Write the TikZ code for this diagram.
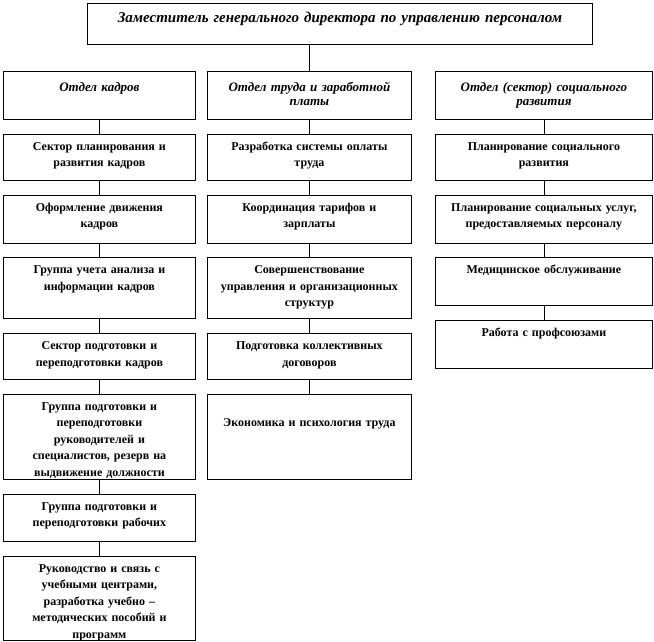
\documentclass[tikz,border=0pt]{standalone}
\usepackage{fontspec}
\setmainfont{Liberation Serif}
\usetikzlibrary{positioning}

\begin{document}
\begin{tikzpicture}[x=1pt, y=-1pt, node distance=14pt,
  cell/.style={draw, line width=.8pt, inner xsep=3pt, inner ysep=0pt, align=center,
    font=\fontsize{12}{16.5}\selectfont\bfseries, text height=16pt, text depth={#1-16pt}},
  head/.style={cell=#1, text height=20pt, text depth={#1-20pt},
    font=\fontsize{13}{14}\selectfont\bfseries\itshape},
  colk/.style={text width=186pt},
  colt/.style={text width=198pt},
  cols/.style={text width=211pt}]
\useasboundingbox (0,0) rectangle (654,642);
% top
\node[head=41pt, text width=499pt, anchor=north west, text height=19pt, text depth=22pt,
  font=\fontsize{15}{16}\selectfont\bfseries\itshape] (zam) at (87,3)
  {Заместитель генерального директора по управлению персоналом};
% departments
\node[head=48pt, colk, anchor=north west] (k1) at (3,71) {Отдел кадров};
\node[head=48pt, colt, anchor=north west] (t1) at (207,71) {Отдел труда и заработной\\платы};
\node[head=48pt, cols, anchor=north west] (s1) at (435,71) {Отдел (сектор) социального\\развития};
% personnel
\node[cell=46pt, colk, below=of k1] (k2) {Сектор планирования и\\развития кадров};
\node[cell=48pt, colk, below=of k2] (k3) {Оформление движения\\кадров};
\node[cell=61pt, colk, below=of k3] (k4) {Группа учета анализа и\\информации кадров};
\node[cell=46pt, colk, below=of k4] (k5) {Сектор подготовки и\\переподготовки кадров};
\node[cell=85pt, colk, below=of k5] (k6) {Группа подготовки и\\переподготовки\\руководителей и\\специалистов, резерв на\\выдвижение должности};
\node[cell=47pt, colk, below=of k6] (k7) {Группа подготовки и\\переподготовки рабочих};
\node[cell=84pt, colk, below=of k7] (k8) {Руководство и связь с\\учебными центрами,\\разработка учебно –\\методических пособий и\\программ};
% labour and pay
\node[cell=46pt, colt, below=of t1] (t2) {Разработка системы оплаты\\труда};
\node[cell=48pt, colt, below=of t2] (t3) {Координация тарифов и\\зарплаты};
\node[cell=61pt, colt, below=of t3] (t4) {Совершенствование\\управления и организационных\\структур};
\node[cell=46pt, colt, below=of t4] (t5) {Подготовка коллективных\\договоров};
\node[cell=85pt, colt, below=of t5] (t6) {\mbox{}\\Экономика и психология труда};
% social development
\node[cell=46pt, cols, below=of s1] (s2) {Планирование социального\\развития};
\node[cell=48pt, cols, below=of s2] (s3) {Планирование социальных услуг,\\предоставляемых персоналу};
\node[cell=48pt, cols, below=of s3] (s4) {Медицинское обслуживание};
\node[cell=48pt, cols, below=of s4] (s5) {Работа с профсоюзами};
% links
\draw[line width=.8pt] (zam.south -| t1.north) -- (t1.north);
\draw[line width=.8pt] (k1)--(k2)--(k3)--(k4)--(k5)--(k6)--(k7)--(k8);
\draw[line width=.8pt] (t1)--(t2)--(t3)--(t4)--(t5)--(t6);
\draw[line width=.8pt] (s1)--(s2)--(s3)--(s4)--(s5);
\end{tikzpicture}
\end{document}
